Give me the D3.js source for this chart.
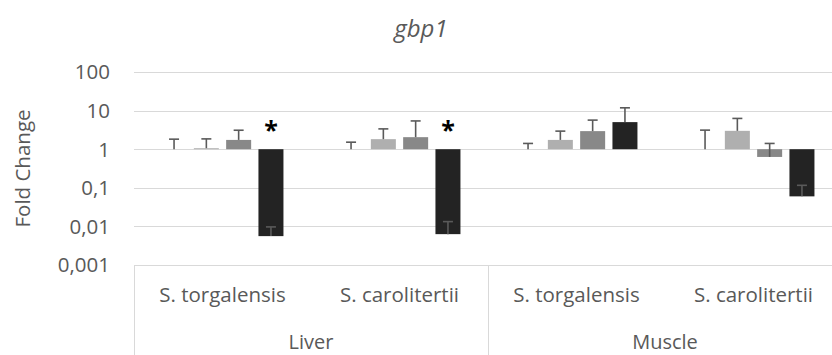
<!DOCTYPE html>
<html>
<head>
<meta charset="utf-8">
<script src="https://cdn.jsdelivr.net/npm/d3@7/dist/d3.min.js"></script>
<style>
  html, body { margin: 0; padding: 0; background: #ffffff; }
  svg { display: block; font-family: "Open Sans", sans-serif; }
</style>
</head>
<body>
<svg id="chart" width="832" height="355"></svg>
<script>
// ---- data ----
const title = "gbp1";
const yAxisLabel = "Fold Change";
const categories = ["S. torgalensis", "S. carolitertii", "S. torgalensis", "S. carolitertii"];
const groups = ["Liver", "Muscle"];
const seriesNames = ["Series 1", "Series 2", "Series 3", "Series 4"];
const series1 = [1.00, 1.00, 1.00, 1.00];
const series2 = [1.06, 1.82, 1.74, 2.99];
const series3 = [1.74, 2.05, 2.94, 0.63];
const series4 = [0.0056, 0.0063, 5.03, 0.060];
const series1Upper = [1.82, 1.52, 1.41, 3.12];
const series2Upper = [1.85, 3.36, 2.94, 6.27];
const series3Upper = [3.10, 5.40, 5.67, 1.41];
const series4Upper = [0.0097, 0.0133, 11.8, 0.116];
const series4Marks = ["*", "*", "", ""];
const yTicks = [0.001, 0.01, 0.1, 1, 10, 100];
const yTickLabels = ["0,001", "0,01", "0,1", "1", "10", "100"];
const seriesColors = ["#d9d9d9", "#afafaf", "#888888", "#232323"];

const seriesValues = [series1, series2, series3, series4];
const seriesUpper = [series1Upper, series2Upper, series3Upper, series4Upper];

// ---- layout ----
const svg = d3.select("#chart");
const plotLeft = 134, plotRight = 842, plotTop = 72, plotBottom = 265;
const gridColor = "#d9d9d9", textColor = "#595959";

const y = d3.scaleLog().domain([0.001, 100]).range([plotBottom, plotTop]);
const x0 = d3.scaleBand().domain(d3.range(categories.length)).range([plotLeft, plotRight]).padding(0);
const x1 = d3.scaleBand().domain(d3.range(seriesNames.length)).range([0, x0.bandwidth()])
  .paddingInner(0.226).paddingOuter(0.853);

// gridlines
svg.append("g").selectAll("line").data(yTicks).join("line")
  .attr("x1", plotLeft).attr("x2", plotRight)
  .attr("y1", d => Math.round(y(d)) + 0.5).attr("y2", d => Math.round(y(d)) + 0.5)
  .attr("stroke", gridColor).attr("stroke-width", 1);

// y tick labels
svg.append("g").selectAll("text").data(yTicks).join("text")
  .attr("x", 110).attr("y", d => y(d))
  .attr("dy", "0.36em")
  .attr("text-anchor", "end")
  .attr("font-size", 20.5).attr("fill", textColor)
  .text((d, i) => yTickLabels[i]);

// y axis title
svg.append("text")
  .attr("transform", `translate(30,${(plotTop + plotBottom) / 2}) rotate(-90)`)
  .attr("text-anchor", "middle")
  .attr("font-size", 20.5).attr("fill", textColor)
  .text(yAxisLabel);

// title
svg.append("text")
  .attr("x", 421).attr("y", 37)
  .attr("text-anchor", "middle")
  .attr("font-size", 24).attr("font-style", "italic").attr("fill", textColor)
  .text(title);

// category axis box lines
const groupBounds = [plotLeft, x0(2), plotRight];
svg.append("g").selectAll("line").data(groupBounds).join("line")
  .attr("x1", d => Math.round(d) + 0.5).attr("x2", d => Math.round(d) + 0.5)
  .attr("y1", plotBottom).attr("y2", 355)
  .attr("stroke", gridColor).attr("stroke-width", 1);

// category labels
svg.append("g").selectAll("text").data(categories).join("text")
  .attr("x", (d, i) => x0(i) + x0.bandwidth() / 2).attr("y", 302)
  .attr("text-anchor", "middle")
  .attr("font-size", 20.5).attr("fill", textColor)
  .text(d => d);

// group labels
svg.append("g").selectAll("text").data(groups).join("text")
  .attr("x", (d, gi) => (groupBounds[gi] + groupBounds[gi + 1]) / 2).attr("y", 349)
  .attr("text-anchor", "middle")
  .attr("font-size", 20).attr("fill", textColor)
  .text(d => d);

// bars
const barData = [];
seriesValues.forEach((vals, s) => vals.forEach((v, c) => barData.push({ s, c, v, up: seriesUpper[s][c] })));
const base = y(1);
svg.append("g").selectAll("rect").data(barData).join("rect")
  .attr("x", d => x0(d.c) + x1(d.s))
  .attr("width", x1.bandwidth())
  .attr("y", d => Math.min(base, y(d.v)))
  .attr("height", d => Math.abs(y(d.v) - base))
  .attr("fill", d => seriesColors[d.s]);

// error bars
const eb = svg.append("g").attr("stroke", "#5a5a5a").attr("stroke-width", 1.6);
barData.forEach(d => {
  const cx = x0(d.c) + x1(d.s) + x1.bandwidth() / 2;
  eb.append("line").attr("x1", cx).attr("x2", cx).attr("y1", y(d.v)).attr("y2", y(d.up));
  eb.append("line").attr("x1", cx - 5).attr("x2", cx + 5).attr("y1", y(d.up)).attr("y2", y(d.up));
});

// significance marks
svg.append("g").selectAll("text").data(series4Marks).join("text")
  .attr("x", (d, c) => x0(c) + x1(3) + x1.bandwidth() / 2)
  .attr("y", 139)
  .attr("text-anchor", "middle")
  .attr("font-size", 25).attr("font-weight", "bold").attr("fill", "#000")
  .text(d => d);
</script>
</body>
</html>
